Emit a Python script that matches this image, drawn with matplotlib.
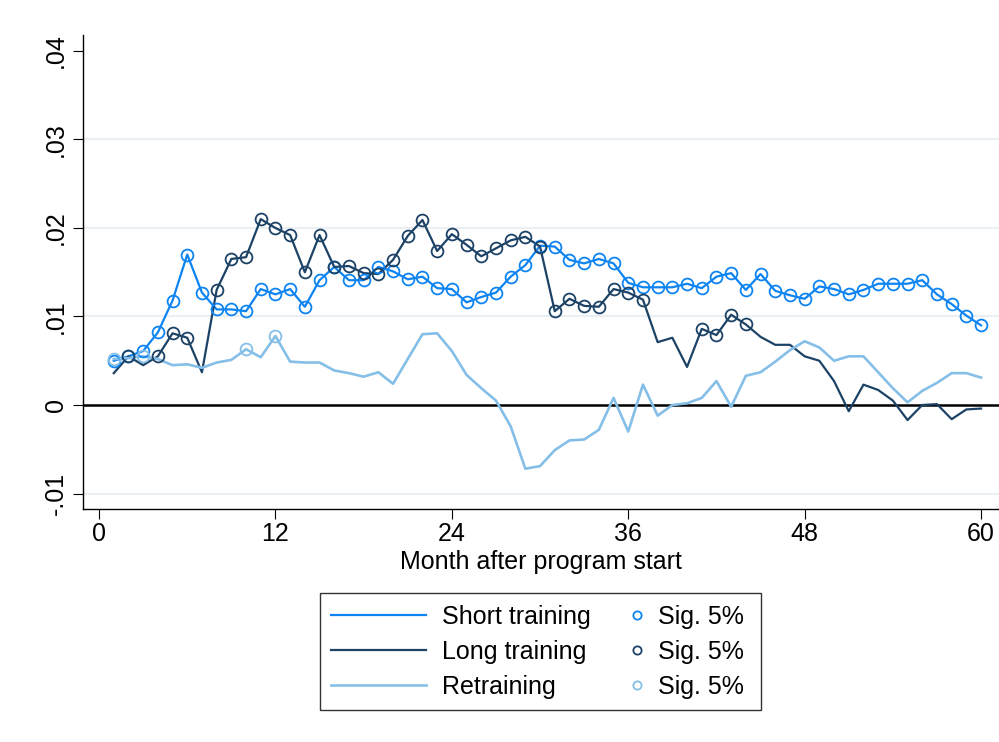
import numpy as np
import matplotlib
matplotlib.use("Agg")
import matplotlib.pyplot as plt
from matplotlib.patches import Rectangle

plt.rcParams["font.family"] = ["Liberation Sans", "DejaVu Sans"]

# ------------------------------------------------------------------
# Data
# ------------------------------------------------------------------
months = np.arange(1, 61)

short_training = [
    0.0050, 0.0055, 0.0061, 0.0082, 0.0118, 0.0170, 0.0127, 0.0108, 0.0108, 0.0106,
    0.0131, 0.0125, 0.0131, 0.0111, 0.0141, 0.0156, 0.0141, 0.0141, 0.0156, 0.0151,
    0.0142, 0.0145, 0.0132, 0.0131, 0.0116, 0.0122, 0.0127, 0.0145, 0.0158, 0.0180,
    0.0179, 0.0164, 0.0160, 0.0165, 0.0160, 0.0138, 0.0133, 0.0133, 0.0133, 0.0137,
    0.0132, 0.0145, 0.0149, 0.0130, 0.0148, 0.0129, 0.0124, 0.0120, 0.0134, 0.0131,
    0.0125, 0.0130, 0.0137, 0.0137, 0.0137, 0.0141, 0.0125, 0.0114, 0.0101, 0.0090,
]
long_training = [
    0.0036, 0.0055, 0.0045, 0.0055, 0.0081, 0.0076, 0.0037, 0.0130, 0.0165, 0.0167,
    0.0210, 0.0200, 0.0192, 0.0150, 0.0192, 0.0156, 0.0157, 0.0149, 0.0148, 0.0164,
    0.0191, 0.0209, 0.0174, 0.0193, 0.0181, 0.0168, 0.0177, 0.0186, 0.0190, 0.0179,
    0.0106, 0.0120, 0.0112, 0.0111, 0.0131, 0.0127, 0.0119, 0.0071, 0.0076, 0.0043,
    0.0086, 0.0079, 0.0102, 0.0091, 0.0077, 0.0068, 0.0068, 0.0055, 0.0050, 0.0027,
    -0.0007, 0.0023, 0.0017, 0.0005, -0.0017, 0.0000, 0.0001, -0.0016, -0.0005, -0.0004,
]
retraining = [
    0.0052, 0.0053, 0.0055, 0.0052, 0.0045, 0.0046, 0.0042, 0.0048, 0.0051, 0.0063,
    0.0054, 0.0078, 0.0049, 0.0048, 0.0048, 0.0039, 0.0036, 0.0032, 0.0037, 0.0024,
    0.0052, 0.0080, 0.0081, 0.0061, 0.0034, 0.0019, 0.0005, -0.0024, -0.0072, -0.0069,
    -0.0051, -0.0040, -0.0039, -0.0028, 0.0008, -0.0030, 0.0023, -0.0012, 0.0000, 0.0002,
    0.0008, 0.0027, -0.0002, 0.0033, 0.0037, 0.0049, 0.0062, 0.0072, 0.0065, 0.0050,
    0.0055, 0.0055, 0.0037, 0.0019, 0.0003, 0.0016, 0.0025, 0.0036, 0.0036, 0.0031,
]

# months significant at 5%
short_sig = [1, 2, 3, 4, 5, 6, 7, 8, 9, 10, 11, 12, 13, 14, 15, 16, 17, 18, 19, 20,
             21, 22, 23, 24, 25, 26, 27, 28, 29, 30, 31, 32, 33, 34, 35, 36, 37, 38, 39, 40,
             41, 42, 43, 44, 45, 46, 47, 48, 49, 50, 51, 52, 53, 54, 55, 56, 57, 58, 59, 60]
long_sig = [2, 4, 5, 6, 8, 9, 10, 11, 12, 13, 14, 15, 16, 17, 18, 19, 20, 21, 22, 23,
            24, 25, 26, 27, 28, 29, 30, 31, 32, 33, 34, 35, 36, 37, 41, 42, 43, 44]
retrain_sig = [1, 3, 10, 12]

series_names = ["Short training", "Long training", "Retraining"]
sig_label = "Sig. 5%"
x_ticks = [0, 12, 24, 36, 48, 60]
y_ticks = [-0.01, 0, 0.01, 0.02, 0.03, 0.04]
y_ticklabels = ["-.01", "0", ".01", ".02", ".03", ".04"]

colors = ["#0d84f2", "#1c4266", "#85bfe8"]
widths = [1.6, 1.6, 1.9]

# ------------------------------------------------------------------
# Figure
# ------------------------------------------------------------------
fig = plt.figure(figsize=(9.99, 7.42), dpi=100)
ax = fig.add_axes([0.0831, 0.314, 0.9169, 0.6388])

for y in [-0.01, 0.01, 0.02, 0.03]:
    ax.axhline(y, color="#e9eff3", lw=1.5, zorder=0)
ax.axhline(0, color="black", lw=1.8, zorder=1)

line_handles = []
marker_handles = []
for vals, sig, c, w, name in zip([short_training, long_training, retraining],
                                 [short_sig, long_sig, retrain_sig], colors, widths,
                                 series_names):
    vals = np.asarray(vals)
    ln, = ax.plot(months, vals, color=c, lw=w, zorder=2, label=name)
    idx = np.asarray(sig) - 1
    mk, = ax.plot(months[idx], vals[idx], linestyle="none", marker="o", ms=8.5,
                  mfc="none", mec=c, mew=1.3, zorder=3, label=sig_label)
    line_handles.append(ln)
    marker_handles.append(mk)

ax.set_xlim(-1.09, 61.22)
ax.set_ylim(-0.01175, 0.0418)
ax.set_xticks(x_ticks)
ax.set_yticks(y_ticks)
ax.set_yticklabels(y_ticklabels, rotation=90, va="center")
ax.tick_params(axis="both", labelsize=18, length=7, width=0.8, color="black")
ax.tick_params(axis="x", pad=2)
ax.tick_params(axis="y", pad=4)
ax.set_xlabel("Month after program start", fontsize=18, labelpad=3)

for side in ["top", "right"]:
    ax.spines[side].set_visible(False)
for side in ["left", "bottom"]:
    ax.spines[side].set_linewidth(1.0)

# legend: lines on the left, significance markers on the right, one shared frame
leg_kw = dict(loc="center left", frameon=False, fontsize=18, borderpad=0,
              borderaxespad=0, labelspacing=0.44)
leg1 = fig.legend(line_handles, series_names, bbox_to_anchor=(0.3313, 0.1213),
                  handlelength=3.8, handletextpad=0.64, **leg_kw)
leg2 = fig.legend(marker_handles, [sig_label] * 3, bbox_to_anchor=(0.625, 0.1213),
                  handlelength=1.0, handletextpad=0.34, markerscale=0.7, **leg_kw)

fig.patches.append(Rectangle((0.3203, 0.0431), 0.4415, 0.1577, transform=fig.transFigure,
                             fill=False, edgecolor="#333333", lw=1.0))

fig.savefig("out.png", dpi=100, facecolor="white")
